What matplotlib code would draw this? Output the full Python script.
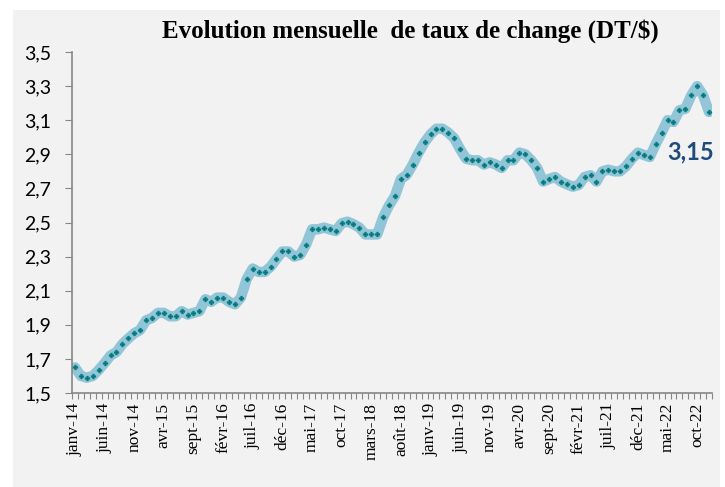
import numpy as np
import matplotlib.pyplot as plt
from matplotlib.patches import Rectangle

# monthly TND/USD, janv-14 .. déc-22
months = ['janv', 'févr', 'mars', 'avr', 'mai', 'juin', 'juil', 'août', 'sept', 'oct', 'nov', 'déc']
years = list(range(14, 23))
labels = [f'{m}-{y}' for y in years for m in months]

rate = [1.65, 1.60, 1.59, 1.60, 1.635, 1.676, 1.72, 1.74, 1.787, 1.82, 1.85, 1.87,
        1.926, 1.94, 1.97, 1.97, 1.95, 1.95, 1.98, 1.96, 1.97, 1.98, 2.05, 2.035,
        2.06, 2.06, 2.035, 2.02, 2.06, 2.17, 2.23, 2.21, 2.21, 2.24, 2.286, 2.33,
        2.33, 2.30, 2.31, 2.37, 2.46, 2.46, 2.47, 2.46, 2.45, 2.495, 2.505, 2.49,
        2.47, 2.43, 2.43, 2.43, 2.53, 2.60, 2.655, 2.755, 2.78, 2.84, 2.91, 2.97,
        3.017, 3.05, 3.05, 3.027, 2.994, 2.93, 2.874, 2.865, 2.865, 2.84, 2.853, 2.84,
        2.82, 2.865, 2.865, 2.91, 2.90, 2.865, 2.82, 2.74, 2.755, 2.767, 2.74, 2.724,
        2.71, 2.72, 2.767, 2.777, 2.74, 2.80, 2.81, 2.80, 2.80, 2.83, 2.874, 2.91,
        2.896, 2.884, 2.96, 3.027, 3.10, 3.09, 3.158, 3.167, 3.246, 3.30, 3.246, 3.148]

last_label = '3,15'

fig = plt.figure(figsize=(7.25, 4.87), dpi=100, facecolor='white')
# grey chart area inside white margins
fig.patches.append(Rectangle((13/725, 0), (720 - 13)/725, 1 - 10/487, transform=fig.transFigure,
                             facecolor='#f2f2f2', edgecolor='none', zorder=-10))

ax = fig.add_axes([72/725, 1 - 393/487, (712 - 72)/725, (393 - 52)/487])
ax.set_facecolor('#f2f2f2')

x = np.arange(len(rate))
ax.plot(x, rate, color='#92c5d7', lw=7.5, solid_joinstyle='round', solid_capstyle='round', zorder=2)
ax.plot(x, rate, ls='none', marker='P', ms=3.5, color='#00797b', mec='#00797b', mew=0.3, zorder=3)

ax.set_ylim(1.5, 3.5)
ax.set_xlim(-0.5, len(rate) - 0.5)
yt = np.arange(1.5, 3.51, 0.2)
ax.set_yticks(yt)
ax.set_yticklabels([f'{v:.1f}'.replace('.', ',') for v in yt],
                   fontfamily='Lato', fontsize=14)

ax.set_xticks(x[::5])
ax.set_xticklabels(labels[::5], rotation=90, fontfamily='Liberation Serif', fontsize=12.5)
ax.set_xticks(np.arange(-0.5, len(rate), 1), minor=True)
ax.tick_params(axis='x', which='major', length=0, pad=7)
ax.tick_params(axis='x', which='minor', length=4, color='#868686', width=0.8)
ax.tick_params(axis='y', length=5, color='#868686', width=0.8, pad=10)

for s in ['top', 'right']:
    ax.spines[s].set_visible(False)
for s in ['left', 'bottom']:
    ax.spines[s].set_color('#868686')
    ax.spines[s].set_linewidth(1.2)

ax.text(103.9, rate[-1] - 0.165, last_label, ha='center', va='top',
        fontfamily='Lato', fontweight='bold', fontsize=17, color='#1f4b7d')

fig.text(0.5655, 1 - 31/487, 'Evolution mensuelle  de taux de change (DT/$)', ha='center', va='center',
         fontfamily='Liberation Serif', fontweight='bold', fontsize=18)

fig.savefig('out.png', dpi=100, facecolor=fig.get_facecolor())
